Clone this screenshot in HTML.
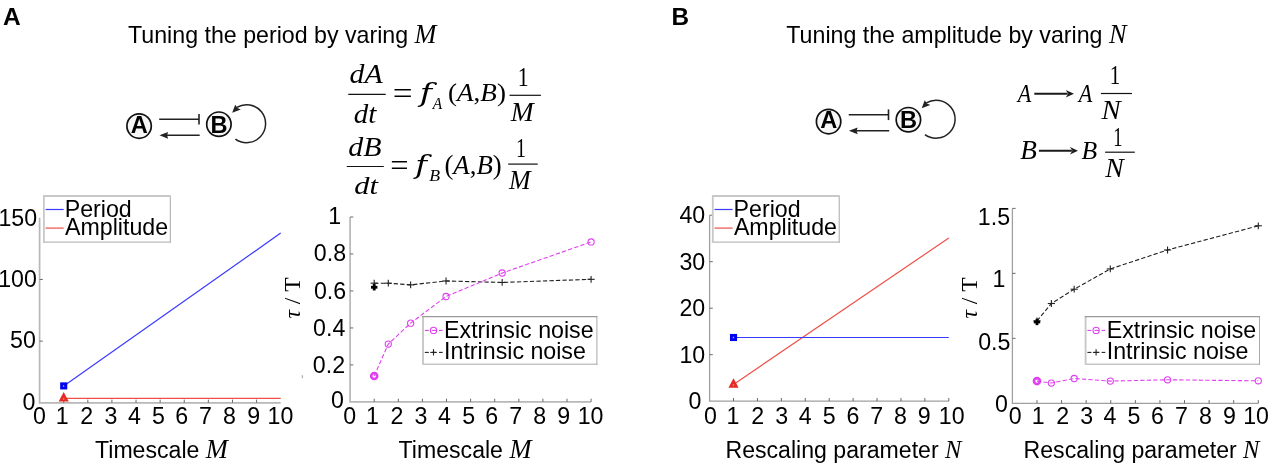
<!DOCTYPE html>
<html><head><meta charset="utf-8"><title>Tuning period and amplitude</title>
<style>
html,body{margin:0;padding:0;background:#fff;}
svg{display:block;will-change:transform;}
.s{font-family:"Liberation Sans", Arial, sans-serif;fill:#000;}
.b{font-family:"Liberation Sans", Arial, sans-serif;font-weight:bold;fill:#000;}
.m{font-family:"Liberation Serif", "Times New Roman", serif;font-style:italic;fill:#000;}
.r{font-family:"Liberation Serif", "Times New Roman", serif;fill:#000;}
.dv{font-family:"DejaVu Serif",serif;font-style:italic;fill:#000;}
</style></head>
<body>
<svg width="1269" height="464" viewBox="0 0 1269 464">
<rect width="1269" height="464" fill="#fff"/>
<text x="3.00" y="24.80" font-size="24.5" text-anchor="start" class="b" >A</text>
<text x="671.60" y="24.70" font-size="24.3" text-anchor="start" class="b" >B</text>
<text x="128" y="42.7" font-size="23.2" class="s">Tuning the period by varing <tspan class="m" font-size="26.3">M</tspan></text>
<text x="786.3" y="42.7" font-size="23.2" class="s">Tuning the amplitude by varing <tspan class="m" font-size="26.3">N</tspan></text>
<g transform="translate(0,0)">
<circle cx="139.1" cy="126.1" r="12.2" fill="#f6f6f6" stroke="#111" stroke-width="1.7"/>
<text x="139.3" y="132.8" font-size="23.6" text-anchor="middle" class="b">A</text>
<circle cx="218.9" cy="124.2" r="12.2" fill="#f6f6f6" stroke="#111" stroke-width="1.7"/>
<text x="219.1" y="132.7" font-size="23.6" text-anchor="middle" class="b">B</text>
<line x1="159.2" y1="119.2" x2="199" y2="119.2" stroke="#222" stroke-width="1.5"/>
<line x1="199" y1="113.9" x2="199" y2="124.6" stroke="#222" stroke-width="1.6"/>
<line x1="165" y1="135.3" x2="199.7" y2="135.3" stroke="#222" stroke-width="1.5"/>
<path d="M159.4,135.3 L168.2,131.9 L167.0,135.3 L168.2,138.7 Z" fill="#222"/>
<path d="M235.43,139.07 A19.0,19.0 0 1 0 236.81,107.41" fill="none" stroke="#222" stroke-width="1.5"/>
<path d="M232.2,112.8 L235.2,104.8 L237.4,108.0 L240.8,109.4 Z" fill="#222"/>
</g>
<g transform="translate(689.5,-4.5)">
<circle cx="139.1" cy="126.1" r="12.2" fill="#f6f6f6" stroke="#111" stroke-width="1.7"/>
<text x="139.3" y="132.8" font-size="23.6" text-anchor="middle" class="b">A</text>
<circle cx="218.9" cy="124.2" r="12.2" fill="#f6f6f6" stroke="#111" stroke-width="1.7"/>
<text x="219.1" y="132.7" font-size="23.6" text-anchor="middle" class="b">B</text>
<line x1="159.2" y1="119.2" x2="199" y2="119.2" stroke="#222" stroke-width="1.5"/>
<line x1="199" y1="113.9" x2="199" y2="124.6" stroke="#222" stroke-width="1.6"/>
<line x1="165" y1="135.3" x2="199.7" y2="135.3" stroke="#222" stroke-width="1.5"/>
<path d="M159.4,135.3 L168.2,131.9 L167.0,135.3 L168.2,138.7 Z" fill="#222"/>
<path d="M235.43,139.07 A19.0,19.0 0 1 0 236.81,107.41" fill="none" stroke="#222" stroke-width="1.5"/>
<path d="M232.2,112.8 L235.2,104.8 L237.4,108.0 L240.8,109.4 Z" fill="#222"/>
</g>
<text transform="translate(349.60,83.32) scale(1.0642,0.9840)"><tspan class="m" font-size="28">dA</tspan></text>
<line x1="348.30" y1="94.30" x2="385.70" y2="94.30" stroke="#111" stroke-width="1.2" />
<text transform="translate(353.82,123.33) scale(1.0376,0.9435)"><tspan class="m" font-size="28">dt</tspan></text>
<text transform="translate(392.74,104.18) scale(1.2587,1.1000)"><tspan class="r" font-size="28">=</tspan></text>
<text transform="translate(419.86,102.23) scale(1.1954,0.9558)"><tspan class="dv" font-size="28">f</tspan></text>
<text transform="translate(432.84,108.60) scale(0.9623,1.0225)"><tspan class="m" font-size="16">A</tspan></text>
<text transform="translate(448.01,101.11) scale(1.0028,0.9721)"><tspan class="r" font-size="27">(</tspan><tspan class="m" font-size="27">A</tspan><tspan class="r" font-size="27">,</tspan><tspan class="m" font-size="27">B</tspan><tspan class="r" font-size="27">)</tspan></text>
<text transform="translate(517.68,85.90) scale(0.7811,1.0063)"><tspan class="r" font-size="28">1</tspan></text>
<line x1="509.50" y1="95.30" x2="540.90" y2="95.30" stroke="#111" stroke-width="1.2" />
<text transform="translate(510.82,120.60) scale(0.9825,0.9709)"><tspan class="m" font-size="28">M</tspan></text>
<text transform="translate(348.19,155.71) scale(1.0695,0.9992)"><tspan class="m" font-size="28">dB</tspan></text>
<line x1="346.80" y1="166.50" x2="383.80" y2="166.50" stroke="#111" stroke-width="1.2" />
<text transform="translate(354.18,193.93) scale(1.0888,0.9232)"><tspan class="m" font-size="28">dt</tspan></text>
<text transform="translate(390.28,176.46) scale(1.1589,1.1143)"><tspan class="r" font-size="28">=</tspan></text>
<text transform="translate(415.37,174.35) scale(1.1461,0.9521)"><tspan class="dv" font-size="28">f</tspan></text>
<text transform="translate(429.24,181.15) scale(1.1107,0.9788)"><tspan class="m" font-size="16">B</tspan></text>
<text transform="translate(444.42,173.82) scale(0.9920,0.9885)"><tspan class="r" font-size="27">(</tspan><tspan class="m" font-size="27">A</tspan><tspan class="r" font-size="27">,</tspan><tspan class="m" font-size="27">B</tspan><tspan class="r" font-size="27">)</tspan></text>
<text transform="translate(515.95,157.40) scale(0.7101,0.9467)"><tspan class="r" font-size="28">1</tspan></text>
<line x1="508.20" y1="164.10" x2="537.70" y2="164.10" stroke="#111" stroke-width="1.2" />
<text transform="translate(508.90,188.90) scale(0.9263,0.9381)"><tspan class="m" font-size="28">M</tspan></text>
<text transform="translate(1017.71,102.00) scale(0.8349,0.9832)"><tspan class="m" font-size="26.5">A</tspan></text>
<line x1="1034.30" y1="93.70" x2="1067.70" y2="93.70" stroke="#1a1a1a" stroke-width="1.9" />
<path d="M1074,93.7 L1065.7,90.0 L1068.3,93.7 L1065.7,97.4 Z" fill="#1a1a1a"/>
<text transform="translate(1078.81,102.00) scale(0.8349,0.9832)"><tspan class="m" font-size="26.5">A</tspan></text>
<line x1="1100.90" y1="93.50" x2="1131.90" y2="93.50" stroke="#111" stroke-width="1.2" />
<text transform="translate(1109.65,83.90) scale(0.7932,1.0689)"><tspan class="r" font-size="26.5">1</tspan></text>
<text transform="translate(1101.51,118.60) scale(1.0838,0.9913)"><tspan class="m" font-size="26.5">N</tspan></text>
<text transform="translate(1020.25,158.82) scale(1.0287,0.9983)"><tspan class="m" font-size="26.5">B</tspan></text>
<line x1="1038.90" y1="150.80" x2="1071.90" y2="150.80" stroke="#1a1a1a" stroke-width="1.9" />
<path d="M1078,150.8 L1069.9,147.10000000000002 L1072.5,150.8 L1069.9,154.5 Z" fill="#1a1a1a"/>
<text transform="translate(1081.56,158.82) scale(0.9701,0.9811)"><tspan class="m" font-size="26.5">B</tspan></text>
<line x1="1105.10" y1="152.20" x2="1134.80" y2="152.20" stroke="#111" stroke-width="1.2" />
<text transform="translate(1113.18,145.70) scale(0.6967,1.0003)"><tspan class="r" font-size="26.5">1</tspan></text>
<text transform="translate(1105.30,176.50) scale(1.0472,0.9913)"><tspan class="m" font-size="26.5">N</tspan></text>
<path d="M39.60,217.80 L39.60,402.80 L280.70,402.80" fill="none" stroke="#b8b8b8" stroke-width="1.7"/>
<line x1="63.71" y1="402.80" x2="63.71" y2="399.60" stroke="#6a6a6a" stroke-width="1" />
<line x1="87.82" y1="402.80" x2="87.82" y2="399.60" stroke="#6a6a6a" stroke-width="1" />
<line x1="111.93" y1="402.80" x2="111.93" y2="399.60" stroke="#6a6a6a" stroke-width="1" />
<line x1="136.04" y1="402.80" x2="136.04" y2="399.60" stroke="#6a6a6a" stroke-width="1" />
<line x1="160.15" y1="402.80" x2="160.15" y2="399.60" stroke="#6a6a6a" stroke-width="1" />
<line x1="184.26" y1="402.80" x2="184.26" y2="399.60" stroke="#6a6a6a" stroke-width="1" />
<line x1="208.37" y1="402.80" x2="208.37" y2="399.60" stroke="#6a6a6a" stroke-width="1" />
<line x1="232.48" y1="402.80" x2="232.48" y2="399.60" stroke="#6a6a6a" stroke-width="1" />
<line x1="256.59" y1="402.80" x2="256.59" y2="399.60" stroke="#6a6a6a" stroke-width="1" />
<line x1="39.60" y1="341.13" x2="42.80" y2="341.13" stroke="#6a6a6a" stroke-width="1" />
<line x1="39.60" y1="279.47" x2="42.80" y2="279.47" stroke="#6a6a6a" stroke-width="1" />
<text x="39.55" y="424.00" font-size="23.2" text-anchor="middle" class="s" >0</text>
<text x="62.23" y="424.00" font-size="23.2" text-anchor="middle" class="s" >1</text>
<text x="86.80" y="424.00" font-size="23.2" text-anchor="middle" class="s" >2</text>
<text x="110.92" y="424.00" font-size="23.2" text-anchor="middle" class="s" >3</text>
<text x="134.37" y="424.00" font-size="23.2" text-anchor="middle" class="s" >4</text>
<text x="158.52" y="424.00" font-size="23.2" text-anchor="middle" class="s" >5</text>
<text x="181.72" y="424.00" font-size="23.2" text-anchor="middle" class="s" >6</text>
<text x="205.49" y="424.00" font-size="23.2" text-anchor="middle" class="s" >7</text>
<text x="229.50" y="424.00" font-size="23.2" text-anchor="middle" class="s" >8</text>
<text x="253.71" y="424.00" font-size="23.2" text-anchor="middle" class="s" >9</text>
<text x="280.47" y="424.00" font-size="23.2" text-anchor="middle" class="s" >10</text>
<text x="37.10" y="226.18" font-size="23.2" text-anchor="end" class="s" >150</text>
<text x="36.80" y="287.23" font-size="23.2" text-anchor="end" class="s" >100</text>
<text x="35.80" y="348.28" font-size="23.2" text-anchor="end" class="s" >50</text>
<text x="35.40" y="409.88" font-size="23.2" text-anchor="end" class="s" >0</text>
<line x1="63.71" y1="398.36" x2="280.70" y2="398.36" stroke="#ee5048" stroke-width="1.2" />
<line x1="63.71" y1="385.90" x2="280.70" y2="233.09" stroke="#3a3aff" stroke-width="1.2" />
<rect x="61.61" y="383.80" width="4.2" height="4.2" fill="none" stroke="#0000f0" stroke-width="2.9"/>
<path d="M63.71,392.06 L68.76,401.61 L58.66,401.61 Z" fill="#e42a22"/>
<circle cx="63.71" cy="398.96" r="0.75" fill="#fff" opacity="0.6"/>
<rect x="43.50" y="196.5" width="127" height="45.8" fill="#fff"/>
<line x1="170.30" y1="196.00" x2="170.30" y2="242.60" stroke="#a8a8a8" stroke-width="1" />
<line x1="43.00" y1="242.10" x2="170.80" y2="242.10" stroke="#a8a8a8" stroke-width="1" />
<line x1="43.90" y1="196.00" x2="43.90" y2="242.60" stroke="#c8c8c8" stroke-width="1.8" />
<line x1="43.00" y1="196.00" x2="170.80" y2="196.00" stroke="#c8c8c8" stroke-width="2" />
<line x1="45.60" y1="209.50" x2="63.70" y2="209.50" stroke="#3a3aff" stroke-width="1.2" />
<line x1="45.60" y1="228.10" x2="63.70" y2="228.10" stroke="#ee6a62" stroke-width="1.4" />
<text x="64.70" y="216.90" font-size="23.2" text-anchor="start" class="s" >Period</text>
<text x="65.00" y="235.30" font-size="23.2" text-anchor="start" class="s" >Amplitude</text>
<line x1="302.30" y1="375.20" x2="302.30" y2="378.20" stroke="#999" stroke-width="1" />
<path d="M350.10,217.00 L350.10,401.90 L591.10,401.90" fill="none" stroke="#b8b8b8" stroke-width="1.7"/>
<line x1="374.20" y1="401.90" x2="374.20" y2="398.70" stroke="#6a6a6a" stroke-width="1" />
<line x1="398.30" y1="401.90" x2="398.30" y2="398.70" stroke="#6a6a6a" stroke-width="1" />
<line x1="422.40" y1="401.90" x2="422.40" y2="398.70" stroke="#6a6a6a" stroke-width="1" />
<line x1="446.50" y1="401.90" x2="446.50" y2="398.70" stroke="#6a6a6a" stroke-width="1" />
<line x1="470.60" y1="401.90" x2="470.60" y2="398.70" stroke="#6a6a6a" stroke-width="1" />
<line x1="494.70" y1="401.90" x2="494.70" y2="398.70" stroke="#6a6a6a" stroke-width="1" />
<line x1="518.80" y1="401.90" x2="518.80" y2="398.70" stroke="#6a6a6a" stroke-width="1" />
<line x1="542.90" y1="401.90" x2="542.90" y2="398.70" stroke="#6a6a6a" stroke-width="1" />
<line x1="567.00" y1="401.90" x2="567.00" y2="398.70" stroke="#6a6a6a" stroke-width="1" />
<line x1="591.10" y1="401.90" x2="591.10" y2="398.70" stroke="#6a6a6a" stroke-width="1" />
<line x1="350.10" y1="364.92" x2="353.30" y2="364.92" stroke="#6a6a6a" stroke-width="1" />
<line x1="350.10" y1="327.94" x2="353.30" y2="327.94" stroke="#6a6a6a" stroke-width="1" />
<line x1="350.10" y1="290.96" x2="353.30" y2="290.96" stroke="#6a6a6a" stroke-width="1" />
<line x1="350.10" y1="253.98" x2="353.30" y2="253.98" stroke="#6a6a6a" stroke-width="1" />
<line x1="350.10" y1="217.00" x2="353.30" y2="217.00" stroke="#6a6a6a" stroke-width="1" />
<text x="349.65" y="424.00" font-size="23.2" text-anchor="middle" class="s" >0</text>
<text x="372.33" y="424.00" font-size="23.2" text-anchor="middle" class="s" >1</text>
<text x="396.90" y="424.00" font-size="23.2" text-anchor="middle" class="s" >2</text>
<text x="421.02" y="424.00" font-size="23.2" text-anchor="middle" class="s" >3</text>
<text x="444.47" y="424.00" font-size="23.2" text-anchor="middle" class="s" >4</text>
<text x="468.62" y="424.00" font-size="23.2" text-anchor="middle" class="s" >5</text>
<text x="491.82" y="424.00" font-size="23.2" text-anchor="middle" class="s" >6</text>
<text x="515.59" y="424.00" font-size="23.2" text-anchor="middle" class="s" >7</text>
<text x="539.60" y="424.00" font-size="23.2" text-anchor="middle" class="s" >8</text>
<text x="563.81" y="424.00" font-size="23.2" text-anchor="middle" class="s" >9</text>
<text x="590.57" y="424.00" font-size="23.2" text-anchor="middle" class="s" >10</text>
<text x="341.20" y="224.48" font-size="23.2" text-anchor="end" class="s" >1</text>
<text x="346.10" y="261.18" font-size="23.2" text-anchor="end" class="s" >0.8</text>
<text x="346.20" y="298.94" font-size="23.2" text-anchor="end" class="s" >0.6</text>
<text x="345.30" y="335.92" font-size="23.2" text-anchor="end" class="s" >0.4</text>
<text x="345.10" y="372.90" font-size="23.2" text-anchor="end" class="s" >0.2</text>
<text x="343.90" y="407.98" font-size="23.2" text-anchor="end" class="s" >0</text>
<polyline points="374.20,283.19 388.30,283.19 410.64,284.86 446.04,280.98 502.16,282.45 591.10,279.31" fill="none" stroke="#222" stroke-width="1.1" stroke-dasharray="4.3 2.2"/>
<line x1="370.60" y1="283.19" x2="377.80" y2="283.19" stroke="#222" stroke-width="1.1" />
<line x1="374.20" y1="279.79" x2="374.20" y2="286.59" stroke="#222" stroke-width="1.1" />
<line x1="384.70" y1="283.19" x2="391.90" y2="283.19" stroke="#222" stroke-width="1.1" />
<line x1="388.30" y1="279.79" x2="388.30" y2="286.59" stroke="#222" stroke-width="1.1" />
<line x1="407.04" y1="284.86" x2="414.24" y2="284.86" stroke="#222" stroke-width="1.1" />
<line x1="410.64" y1="281.46" x2="410.64" y2="288.26" stroke="#222" stroke-width="1.1" />
<line x1="442.44" y1="280.98" x2="449.64" y2="280.98" stroke="#222" stroke-width="1.1" />
<line x1="446.04" y1="277.58" x2="446.04" y2="284.38" stroke="#222" stroke-width="1.1" />
<line x1="498.56" y1="282.45" x2="505.76" y2="282.45" stroke="#222" stroke-width="1.1" />
<line x1="502.16" y1="279.05" x2="502.16" y2="285.85" stroke="#222" stroke-width="1.1" />
<line x1="587.50" y1="279.31" x2="594.70" y2="279.31" stroke="#222" stroke-width="1.1" />
<line x1="591.10" y1="275.91" x2="591.10" y2="282.71" stroke="#222" stroke-width="1.1" />
<polyline points="374.20,376.01 388.30,344.03 410.64,323.13 446.04,296.51 502.16,273.02 591.10,241.96" fill="none" stroke="#e040f0" stroke-width="1.1" stroke-dasharray="4.3 2.2"/>
<circle cx="374.20" cy="376.01" r="3.1" fill="none" stroke="#e040f0" stroke-width="1.1"/>
<circle cx="388.30" cy="344.03" r="3.1" fill="none" stroke="#e040f0" stroke-width="1.1"/>
<circle cx="410.64" cy="323.13" r="3.1" fill="none" stroke="#e040f0" stroke-width="1.1"/>
<circle cx="446.04" cy="296.51" r="3.1" fill="none" stroke="#e040f0" stroke-width="1.1"/>
<circle cx="502.16" cy="273.02" r="3.1" fill="none" stroke="#e040f0" stroke-width="1.1"/>
<circle cx="591.10" cy="241.96" r="3.1" fill="none" stroke="#e040f0" stroke-width="1.1"/>
<circle cx="374.20" cy="376.01" r="3.0" fill="none" stroke="#e040f0" stroke-width="2.6"/>
<line x1="371.00" y1="287.26" x2="377.40" y2="287.26" stroke="#000" stroke-width="2.8" />
<line x1="374.20" y1="284.06" x2="374.20" y2="290.46" stroke="#000" stroke-width="2.8" />
<rect x="422.80" y="316.3" width="174.1" height="47.9" fill="#fff"/>
<line x1="596.90" y1="316.50" x2="596.90" y2="364.70" stroke="#a8a8a8" stroke-width="1" />
<line x1="422.80" y1="364.20" x2="597.40" y2="364.20" stroke="#a8a8a8" stroke-width="1" />
<line x1="423.00" y1="316.50" x2="423.00" y2="364.70" stroke="#c8c8c8" stroke-width="1.9" />
<line x1="422.10" y1="316.60" x2="597.40" y2="316.60" stroke="#9a9a9a" stroke-width="1.1" />
<line x1="424.80" y1="330.40" x2="428.80" y2="330.40" stroke="#e040f0" stroke-width="1.1" />
<line x1="424.80" y1="352.40" x2="428.80" y2="352.40" stroke="#222" stroke-width="1.1" />
<line x1="431.90" y1="330.40" x2="436.30" y2="330.40" stroke="#e040f0" stroke-width="1.1" />
<line x1="431.90" y1="352.40" x2="436.30" y2="352.40" stroke="#222" stroke-width="1.1" />
<line x1="439.00" y1="330.40" x2="442.70" y2="330.40" stroke="#e040f0" stroke-width="1.1" />
<line x1="439.00" y1="352.40" x2="442.70" y2="352.40" stroke="#222" stroke-width="1.1" />
<circle cx="433.50" cy="330.40" r="3.1" fill="none" stroke="#e040f0" stroke-width="1.1"/>
<line x1="430.30" y1="352.40" x2="436.80" y2="352.40" stroke="#222" stroke-width="1.1" />
<line x1="433.50" y1="349.20" x2="433.50" y2="355.50" stroke="#222" stroke-width="1.1" />
<text x="444.10" y="337.80" font-size="23.2" text-anchor="start" class="s" >Extrinsic noise</text>
<text x="444.10" y="359.20" font-size="23.2" text-anchor="start" class="s" >Intrinsic noise</text>
<text transform="translate(300.3,298) rotate(-90)" font-size="23.5" text-anchor="middle" class="r"><tspan class="m">τ</tspan> / T</text>
<text x="95" y="457.8" font-size="23.1" class="s">Timescale <tspan class="m" font-size="26.5">M</tspan></text>
<text x="398.6" y="457.8" font-size="23.1" class="s">Timescale <tspan class="m" font-size="26.5">M</tspan></text>
<path d="M709.60,215.20 L709.60,401.20 L948.80,401.20" fill="none" stroke="#a0a0a0" stroke-width="1.3"/>
<line x1="733.52" y1="401.20" x2="733.52" y2="398.00" stroke="#6a6a6a" stroke-width="1" />
<line x1="757.44" y1="401.20" x2="757.44" y2="398.00" stroke="#6a6a6a" stroke-width="1" />
<line x1="781.36" y1="401.20" x2="781.36" y2="398.00" stroke="#6a6a6a" stroke-width="1" />
<line x1="805.28" y1="401.20" x2="805.28" y2="398.00" stroke="#6a6a6a" stroke-width="1" />
<line x1="829.20" y1="401.20" x2="829.20" y2="398.00" stroke="#6a6a6a" stroke-width="1" />
<line x1="853.12" y1="401.20" x2="853.12" y2="398.00" stroke="#6a6a6a" stroke-width="1" />
<line x1="877.04" y1="401.20" x2="877.04" y2="398.00" stroke="#6a6a6a" stroke-width="1" />
<line x1="900.96" y1="401.20" x2="900.96" y2="398.00" stroke="#6a6a6a" stroke-width="1" />
<line x1="924.88" y1="401.20" x2="924.88" y2="398.00" stroke="#6a6a6a" stroke-width="1" />
<line x1="948.80" y1="401.20" x2="948.80" y2="398.00" stroke="#6a6a6a" stroke-width="1" />
<line x1="709.60" y1="354.70" x2="712.80" y2="354.70" stroke="#6a6a6a" stroke-width="1" />
<line x1="709.60" y1="308.20" x2="712.80" y2="308.20" stroke="#6a6a6a" stroke-width="1" />
<line x1="709.60" y1="261.70" x2="712.80" y2="261.70" stroke="#6a6a6a" stroke-width="1" />
<line x1="709.60" y1="215.20" x2="712.80" y2="215.20" stroke="#6a6a6a" stroke-width="1" />
<text x="710.50" y="424.00" font-size="23.2" text-anchor="middle" class="s" >0</text>
<text x="732.98" y="424.00" font-size="23.2" text-anchor="middle" class="s" >1</text>
<text x="757.60" y="424.00" font-size="23.2" text-anchor="middle" class="s" >2</text>
<text x="781.72" y="424.00" font-size="23.2" text-anchor="middle" class="s" >3</text>
<text x="805.17" y="424.00" font-size="23.2" text-anchor="middle" class="s" >4</text>
<text x="829.32" y="424.00" font-size="23.2" text-anchor="middle" class="s" >5</text>
<text x="853.02" y="424.00" font-size="23.2" text-anchor="middle" class="s" >6</text>
<text x="876.74" y="424.00" font-size="23.2" text-anchor="middle" class="s" >7</text>
<text x="900.40" y="424.00" font-size="23.2" text-anchor="middle" class="s" >8</text>
<text x="924.31" y="424.00" font-size="23.2" text-anchor="middle" class="s" >9</text>
<text x="951.67" y="424.00" font-size="23.2" text-anchor="middle" class="s" >10</text>
<text x="705.20" y="223.18" font-size="23.2" text-anchor="end" class="s" >40</text>
<text x="705.20" y="269.68" font-size="23.2" text-anchor="end" class="s" >30</text>
<text x="705.20" y="316.18" font-size="23.2" text-anchor="end" class="s" >20</text>
<text x="705.20" y="362.68" font-size="23.2" text-anchor="end" class="s" >10</text>
<text x="701.40" y="409.28" font-size="23.2" text-anchor="end" class="s" >0</text>
<line x1="733.52" y1="384.46" x2="948.80" y2="237.98" stroke="#ee5048" stroke-width="1.2" />
<line x1="733.52" y1="337.50" x2="948.80" y2="337.50" stroke="#3a3aff" stroke-width="1.2" />
<rect x="731.42" y="335.39" width="4.2" height="4.2" fill="none" stroke="#0000f0" stroke-width="2.9"/>
<path d="M733.52,378.16 L738.57,387.71 L728.47,387.71 Z" fill="#e42a22"/>
<circle cx="733.52" cy="385.06" r="0.75" fill="#fff" opacity="0.6"/>
<rect x="712.40" y="196.5" width="127" height="45.8" fill="#fff"/>
<line x1="839.20" y1="196.00" x2="839.20" y2="242.60" stroke="#a8a8a8" stroke-width="1" />
<line x1="711.90" y1="242.10" x2="839.70" y2="242.10" stroke="#a8a8a8" stroke-width="1" />
<line x1="712.80" y1="196.00" x2="712.80" y2="242.60" stroke="#c8c8c8" stroke-width="1.8" />
<line x1="711.90" y1="196.00" x2="839.70" y2="196.00" stroke="#c8c8c8" stroke-width="2" />
<line x1="714.50" y1="209.50" x2="732.60" y2="209.50" stroke="#3a3aff" stroke-width="1.2" />
<line x1="714.50" y1="228.10" x2="732.60" y2="228.10" stroke="#ee6a62" stroke-width="1.4" />
<text x="733.60" y="216.90" font-size="23.2" text-anchor="start" class="s" >Period</text>
<text x="733.90" y="235.30" font-size="23.2" text-anchor="start" class="s" >Amplitude</text>
<text x="725.5" y="457.8" font-size="23.1" class="s">Rescaling parameter <tspan class="m" font-size="24.5">N</tspan></text>
<path d="M1012.40,208.40 L1012.40,403.30 L1258.30,403.30" fill="none" stroke="#a0a0a0" stroke-width="1.3"/>
<line x1="1036.99" y1="403.30" x2="1036.99" y2="400.10" stroke="#6a6a6a" stroke-width="1" />
<line x1="1061.58" y1="403.30" x2="1061.58" y2="400.10" stroke="#6a6a6a" stroke-width="1" />
<line x1="1086.17" y1="403.30" x2="1086.17" y2="400.10" stroke="#6a6a6a" stroke-width="1" />
<line x1="1110.76" y1="403.30" x2="1110.76" y2="400.10" stroke="#6a6a6a" stroke-width="1" />
<line x1="1135.35" y1="403.30" x2="1135.35" y2="400.10" stroke="#6a6a6a" stroke-width="1" />
<line x1="1159.94" y1="403.30" x2="1159.94" y2="400.10" stroke="#6a6a6a" stroke-width="1" />
<line x1="1184.53" y1="403.30" x2="1184.53" y2="400.10" stroke="#6a6a6a" stroke-width="1" />
<line x1="1209.12" y1="403.30" x2="1209.12" y2="400.10" stroke="#6a6a6a" stroke-width="1" />
<line x1="1233.71" y1="403.30" x2="1233.71" y2="400.10" stroke="#6a6a6a" stroke-width="1" />
<line x1="1258.30" y1="403.30" x2="1258.30" y2="400.10" stroke="#6a6a6a" stroke-width="1" />
<line x1="1012.40" y1="338.33" x2="1015.60" y2="338.33" stroke="#6a6a6a" stroke-width="1" />
<line x1="1012.40" y1="273.37" x2="1015.60" y2="273.37" stroke="#6a6a6a" stroke-width="1" />
<line x1="1012.40" y1="208.40" x2="1015.60" y2="208.40" stroke="#6a6a6a" stroke-width="1" />
<text x="1015.30" y="424.00" font-size="23.2" text-anchor="middle" class="s" >0</text>
<text x="1038.13" y="424.00" font-size="23.2" text-anchor="middle" class="s" >1</text>
<text x="1062.65" y="424.00" font-size="23.2" text-anchor="middle" class="s" >2</text>
<text x="1086.82" y="424.00" font-size="23.2" text-anchor="middle" class="s" >3</text>
<text x="1110.02" y="424.00" font-size="23.2" text-anchor="middle" class="s" >4</text>
<text x="1133.87" y="424.00" font-size="23.2" text-anchor="middle" class="s" >5</text>
<text x="1157.57" y="424.00" font-size="23.2" text-anchor="middle" class="s" >6</text>
<text x="1181.49" y="424.00" font-size="23.2" text-anchor="middle" class="s" >7</text>
<text x="1205.40" y="424.00" font-size="23.2" text-anchor="middle" class="s" >8</text>
<text x="1229.51" y="424.00" font-size="23.2" text-anchor="middle" class="s" >9</text>
<text x="1256.07" y="424.00" font-size="23.2" text-anchor="middle" class="s" >10</text>
<text x="1010.10" y="224.88" font-size="23.2" text-anchor="end" class="s" >1.5</text>
<text x="1005.50" y="286.78" font-size="23.2" text-anchor="end" class="s" >1</text>
<text x="1010.40" y="349.78" font-size="23.2" text-anchor="end" class="s" >0.5</text>
<text x="1007.90" y="412.18" font-size="23.2" text-anchor="end" class="s" >0</text>
<polyline points="1036.99,320.92 1051.37,303.51 1074.17,289.22 1110.29,268.95 1167.55,249.98 1258.30,225.81" fill="none" stroke="#222" stroke-width="1.1" stroke-dasharray="4.3 2.2"/>
<line x1="1033.39" y1="320.92" x2="1040.59" y2="320.92" stroke="#222" stroke-width="1.1" />
<line x1="1036.99" y1="317.52" x2="1036.99" y2="324.32" stroke="#222" stroke-width="1.1" />
<line x1="1047.77" y1="303.51" x2="1054.97" y2="303.51" stroke="#222" stroke-width="1.1" />
<line x1="1051.37" y1="300.11" x2="1051.37" y2="306.91" stroke="#222" stroke-width="1.1" />
<line x1="1070.57" y1="289.22" x2="1077.77" y2="289.22" stroke="#222" stroke-width="1.1" />
<line x1="1074.17" y1="285.82" x2="1074.17" y2="292.62" stroke="#222" stroke-width="1.1" />
<line x1="1106.69" y1="268.95" x2="1113.89" y2="268.95" stroke="#222" stroke-width="1.1" />
<line x1="1110.29" y1="265.55" x2="1110.29" y2="272.35" stroke="#222" stroke-width="1.1" />
<line x1="1163.95" y1="249.98" x2="1171.15" y2="249.98" stroke="#222" stroke-width="1.1" />
<line x1="1167.55" y1="246.58" x2="1167.55" y2="253.38" stroke="#222" stroke-width="1.1" />
<line x1="1254.70" y1="225.81" x2="1261.90" y2="225.81" stroke="#222" stroke-width="1.1" />
<line x1="1258.30" y1="222.41" x2="1258.30" y2="229.21" stroke="#222" stroke-width="1.1" />
<polyline points="1036.99,381.08 1051.37,383.03 1074.17,378.48 1110.29,381.08 1167.55,379.78 1258.30,380.82" fill="none" stroke="#e040f0" stroke-width="1.1" stroke-dasharray="4.3 2.2"/>
<circle cx="1036.99" cy="381.08" r="3.1" fill="none" stroke="#e040f0" stroke-width="1.1"/>
<circle cx="1051.37" cy="383.03" r="3.1" fill="none" stroke="#e040f0" stroke-width="1.1"/>
<circle cx="1074.17" cy="378.48" r="3.1" fill="none" stroke="#e040f0" stroke-width="1.1"/>
<circle cx="1110.29" cy="381.08" r="3.1" fill="none" stroke="#e040f0" stroke-width="1.1"/>
<circle cx="1167.55" cy="379.78" r="3.1" fill="none" stroke="#e040f0" stroke-width="1.1"/>
<circle cx="1258.30" cy="380.82" r="3.1" fill="none" stroke="#e040f0" stroke-width="1.1"/>
<circle cx="1036.99" cy="381.08" r="3.0" fill="none" stroke="#e040f0" stroke-width="2.6"/>
<line x1="1033.79" y1="321.96" x2="1040.19" y2="321.96" stroke="#000" stroke-width="2.8" />
<line x1="1036.99" y1="318.76" x2="1036.99" y2="325.16" stroke="#000" stroke-width="2.8" />
<rect x="1085.40" y="316.3" width="174.1" height="47.9" fill="#fff"/>
<line x1="1259.50" y1="316.50" x2="1259.50" y2="364.70" stroke="#a8a8a8" stroke-width="1" />
<line x1="1085.40" y1="364.20" x2="1260.00" y2="364.20" stroke="#a8a8a8" stroke-width="1" />
<line x1="1085.60" y1="316.50" x2="1085.60" y2="364.70" stroke="#c8c8c8" stroke-width="1.9" />
<line x1="1084.70" y1="316.60" x2="1260.00" y2="316.60" stroke="#9a9a9a" stroke-width="1.1" />
<line x1="1087.40" y1="330.40" x2="1091.40" y2="330.40" stroke="#e040f0" stroke-width="1.1" />
<line x1="1087.40" y1="352.40" x2="1091.40" y2="352.40" stroke="#222" stroke-width="1.1" />
<line x1="1094.50" y1="330.40" x2="1098.90" y2="330.40" stroke="#e040f0" stroke-width="1.1" />
<line x1="1094.50" y1="352.40" x2="1098.90" y2="352.40" stroke="#222" stroke-width="1.1" />
<line x1="1101.60" y1="330.40" x2="1105.30" y2="330.40" stroke="#e040f0" stroke-width="1.1" />
<line x1="1101.60" y1="352.40" x2="1105.30" y2="352.40" stroke="#222" stroke-width="1.1" />
<circle cx="1096.10" cy="330.40" r="3.1" fill="none" stroke="#e040f0" stroke-width="1.1"/>
<line x1="1092.90" y1="352.40" x2="1099.40" y2="352.40" stroke="#222" stroke-width="1.1" />
<line x1="1096.10" y1="349.20" x2="1096.10" y2="355.50" stroke="#222" stroke-width="1.1" />
<text x="1106.70" y="337.80" font-size="23.2" text-anchor="start" class="s" >Extrinsic noise</text>
<text x="1106.70" y="359.20" font-size="23.2" text-anchor="start" class="s" >Intrinsic noise</text>
<text transform="translate(977,298) rotate(-90)" font-size="23.5" text-anchor="middle" class="r"><tspan class="m">τ</tspan> / T</text>
<text x="1023.6" y="457.8" font-size="23.1" class="s">Rescaling parameter <tspan class="m" font-size="24.5">N</tspan></text>
</svg>
</body></html>
